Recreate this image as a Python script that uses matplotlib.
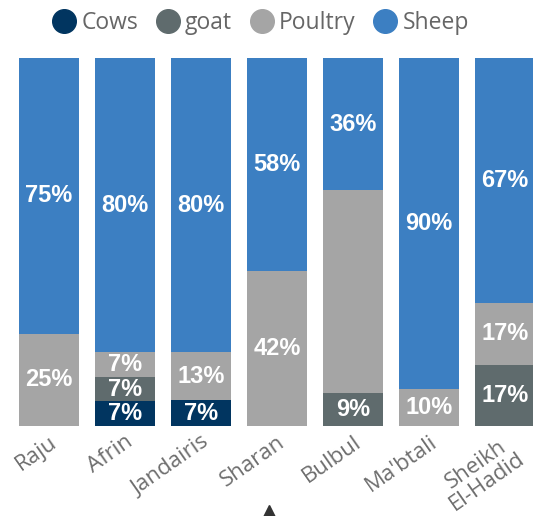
import matplotlib
matplotlib.use("Agg")
import matplotlib.pyplot as plt
from matplotlib.lines import Line2D
import numpy as np

# livestock share per site (percent of holdings)
sites = ["Raju", "Afrin", "Jandairis", "Sharan", "Bulbul", "Ma'btali", "Sheikh\nEl-Hadid"]
cows = [0, 6.67, 7, 0, 0, 0, 0]
goat = [0, 6.67, 0, 0, 9, 0, 16.67]
poultry = [25, 6.67, 13, 42, 55, 10, 16.67]
sheep = [75, 80, 80, 58, 36, 90, 66.67]
series_names = ["Cows", "goat", "Poultry", "Sheep"]
colors = ["#013560", "#5f6b6d", "#a5a5a5", "#3c7fc2"]
# the Bulbul poultry segment carries no label
hide_label = {("Poultry", "Bulbul")}

W, H = 533, 516
fig = plt.figure(figsize=(W / 100, H / 100), dpi=100)
ax = fig.add_axes([0, 90 / H, 1, 368 / H])

x = np.arange(len(sites))
step = 76.0
ax.set_xlim(-49 / step, (W - 49) / step)
ax.set_ylim(0, 100)

bottom = np.zeros(len(sites))
for name, vals, col in zip(series_names, [cows, goat, poultry, sheep], colors):
    vals = np.array(vals, dtype=float)
    ax.bar(x, vals, width=60 / step, bottom=bottom, color=col, linewidth=0)
    for i, v in enumerate(vals):
        if v <= 0 or (name, sites[i]) in hide_label:
            continue
        ax.text(x[i], bottom[i] + v / 2, f"{v:.0f}%", ha="center", va="center",
                color="white", fontsize=17, fontweight="bold",
                family="Liberation Sans")
    bottom += vals

for s in ax.spines.values():
    s.set_visible(False)
ax.set_yticks([])
ax.set_xticks(x)
ax.set_xticklabels(sites, rotation=35, ha="right", rotation_mode="anchor",
                   multialignment="center", fontsize=16, color="#6e6e6e",
                   family="Open Sans", linespacing=0.95)
ax.tick_params(axis="x", length=0, pad=4)

handles = [Line2D([], [], marker="o", linestyle="none", markersize=17,
                  markerfacecolor=c, markeredgecolor=c) for c in colors]
fig.legend(handles, series_names, loc="center", bbox_to_anchor=(0.488, 1 - 23 / H),
           ncol=4, frameon=False, handletextpad=0.2, columnspacing=0.75,
           handlelength=1.1, prop={"family": "Open Sans", "size": 16.5},
           labelcolor="#666666")

# small marker at the bottom edge
fig.add_artist(Line2D([269 / W], [5 / H], marker="^", markersize=9,
                      color="#333333", transform=fig.transFigure))

fig.savefig("out.png", dpi=100)
